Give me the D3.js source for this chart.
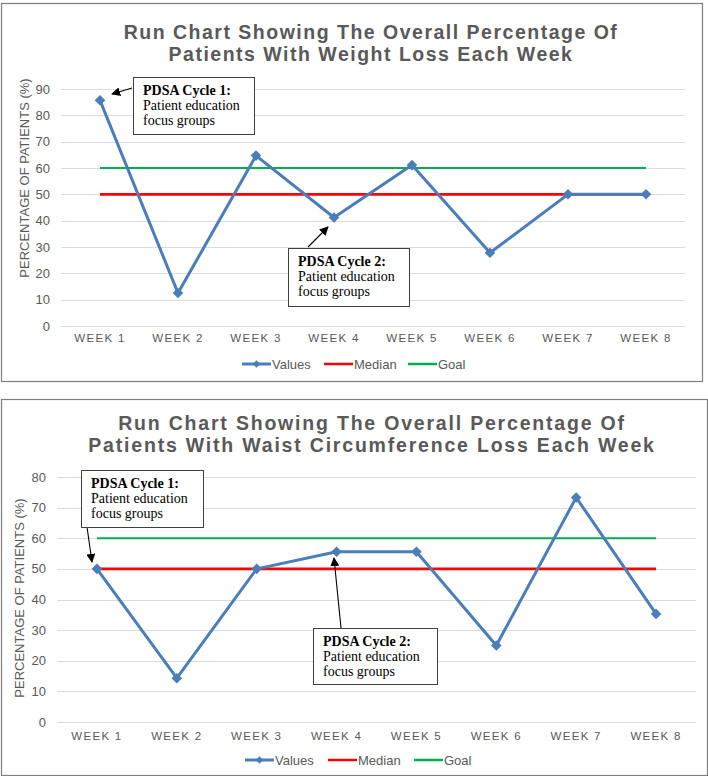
<!DOCTYPE html>
<html><head><meta charset="utf-8">
<script src="https://cdn.jsdelivr.net/npm/d3@7"></script>
<style>
body{margin:0;background:#fff;}
svg{display:block;font-family:"Liberation Sans",Arial,sans-serif;}
</style></head>
<body>
<svg id="c" width="708" height="776"></svg>
<script>
// ---- data ----
const weeks = ["WEEK 1","WEEK 2","WEEK 3","WEEK 4","WEEK 5","WEEK 6","WEEK 7","WEEK 8"];
const weightValues = [85.7, 12.5, 64.7, 41.2, 61.1, 27.8, 50, 50];
const waistValues = [50, 14.3, 50, 55.6, 55.6, 25, 73.3, 35.3];
const medianValue = 50;
const goalValue = 60;
const yTicksWeight = [0,10,20,30,40,50,60,70,80,90];
const yTicksWaist = [0,10,20,30,40,50,60,70,80];
const titleWeight = ["Run Chart Showing The Overall Percentage Of","Patients With Weight Loss Each Week"];
const titleWaist = ["Run Chart Showing The Overall Percentage Of","Patients With Waist Circumference Loss Each Week"];
const legendLabels = ["Values","Median","Goal"];
const noteTitles = ["PDSA Cycle 1:","PDSA Cycle 2:"];
const noteLines = ["Patient education","focus groups"];

const svg = d3.select("#c");
const defs = svg.append("defs");
defs.append("marker").attr("id","arr").attr("viewBox","0 0 10 10").attr("refX",9).attr("refY",5)
  .attr("markerWidth",9).attr("markerHeight",9).attr("markerUnits","userSpaceOnUse").attr("orient","auto")
  .append("path").attr("d","M0,0L10,5L0,10z").attr("fill","#000");

const BLUE="#4a7ebb", RED="#ff0000", GREEN="#00b050", GREY="#595959";

function drawChart(o){
  const g = svg.append("g");
  g.append("rect").attr("x",o.box[0]+0.5).attr("y",o.box[1]+0.5).attr("width",o.box[2]).attr("height",o.box[3])
    .attr("fill","#fff").attr("stroke","#7f7f7f").attr("stroke-width",1.2);
  // title
  o.title.forEach((t,i)=>{
    g.append("text").attr("x",o.titleX).attr("y",o.titleY+i*21.5).attr("text-anchor","middle")
      .attr("font-size",19.5).attr("font-weight","bold").attr("letter-spacing",o.titleLS).attr("fill",GREY).text(t);
  });
  const x = d3.scaleBand().domain(weeks).range([o.left,o.right]);
  const y = d3.scaleLinear().domain([0,d3.max(o.ticks)]).range([o.bottom,o.top]);
  const cx = d => x(d)+x.bandwidth()/2;
  // grid
  g.append("g").selectAll("line").data(o.ticks).join("line")
    .attr("x1",o.left).attr("x2",o.right).attr("y1",d=>Math.round(y(d))+0.5).attr("y2",d=>Math.round(y(d))+0.5)
    .attr("stroke","#dcdcdc").attr("stroke-width",1);
  // y ticks
  g.append("g").selectAll("text").data(o.ticks).join("text")
    .attr("x",o.left-11).attr("y",d=>y(d)+4.5).attr("text-anchor","end").attr("font-size",13).attr("fill",GREY).text(d=>d);
  // x ticks
  g.append("g").selectAll("text").data(weeks).join("text")
    .attr("x",d=>cx(d)).attr("y",o.xLabY).attr("text-anchor","middle").attr("font-size",11.5).attr("letter-spacing",1.3)
    .attr("fill",GREY).text(d=>d);
  // y label
  g.append("text").attr("transform",`translate(${o.yLabX},${o.yLabY}) rotate(-90)`).attr("text-anchor","middle")
    .attr("font-size",13).attr("fill",GREY).text("PERCENTAGE OF PATIENTS (%)");
  // goal & median
  g.append("line").attr("x1",cx(weeks[0])).attr("x2",cx(weeks[weeks.length-1])).attr("y1",y(goalValue)).attr("y2",y(goalValue))
    .attr("stroke",GREEN).attr("stroke-width",2.2);
  g.append("line").attr("x1",cx(weeks[0])).attr("x2",cx(weeks[weeks.length-1])).attr("y1",y(medianValue)).attr("y2",y(medianValue))
    .attr("stroke",RED).attr("stroke-width",2.6);
  // values
  const line = d3.line().x((d,i)=>cx(weeks[i])).y(d=>y(d));
  g.append("path").attr("d",line(o.values)).attr("fill","none").attr("stroke",BLUE).attr("stroke-width",3).attr("stroke-linejoin","round");
  const diamond = d3.symbol().type(d3.symbolSquare).size(56);
  g.append("g").selectAll("path").data(o.values).join("path")
    .attr("transform",(d,i)=>`translate(${cx(weeks[i])},${y(d)}) rotate(45)`).attr("d",diamond).attr("fill",BLUE);
  // legend
  const lg = g.append("g");
  const colors=[BLUE,RED,GREEN];
  legendLabels.forEach((l,i)=>{
    const lx = o.legX[i];
    lg.append("line").attr("x1",lx).attr("x2",lx+29).attr("y1",o.legY).attr("y2",o.legY).attr("stroke",colors[i]).attr("stroke-width",i==0?3:2.5);
    if(i==0) lg.append("path").attr("transform",`translate(${lx+14.5},${o.legY}) rotate(45)`).attr("d",d3.symbol().type(d3.symbolSquare).size(28)).attr("fill",BLUE);
    lg.append("text").attr("x",lx+30).attr("y",o.legY+4.5).attr("font-size",13).attr("fill",GREY).text(l);
  });
  // notes
  o.notes.forEach((n,k)=>{
    g.append("line").attr("x1",n.a[0]).attr("y1",n.a[1]).attr("x2",n.a[2]).attr("y2",n.a[3])
      .attr("stroke","#000").attr("stroke-width",1.1).attr("marker-end","url(#arr)");
    g.append("rect").attr("x",n.b[0]+0.5).attr("y",n.b[1]+0.5).attr("width",n.b[2]).attr("height",n.b[3])
      .attr("fill","#fff").attr("stroke","#404040").attr("stroke-width",1);
    const t = g.append("text").attr("font-family","'Liberation Serif','Times New Roman',serif").attr("font-size",14).attr("fill","#000");
    t.append("tspan").attr("x",n.b[0]+10).attr("y",n.b[1]+18).attr("font-weight","bold").text(noteTitles[k]);
    noteLines.forEach((s,j)=>t.append("tspan").attr("x",n.b[0]+10).attr("y",n.b[1]+33+15*j).text(s));
  });
}

drawChart({
  box:[1,3,701,378], title:titleWeight, titleX:371, titleY:39, titleLS:1.5,
  left:61, right:685, top:89, bottom:326, ticks:yTicksWeight, values:weightValues,
  xLabY:342, yLabX:29, yLabY:178, legY:364, legX:[242,324,408],
  notes:[{b:[133,77,121,57], a:[132,88,112,94]},{b:[288,248,121,58], a:[308,247,328,227]}]
});
drawChart({
  box:[1,399,706,376], title:titleWaist, titleX:372, titleY:430, titleLS:1.8,
  left:57, right:696, top:477, bottom:722, ticks:yTicksWaist, values:waistValues,
  xLabY:740, yLabX:24, yLabY:598, legY:760, legX:[245,328,414],
  notes:[{b:[81,470,122,57], a:[87,527,92,562]},{b:[313,628,124,56], a:[341,628,334,558]}]
});
</script>
</body></html>
